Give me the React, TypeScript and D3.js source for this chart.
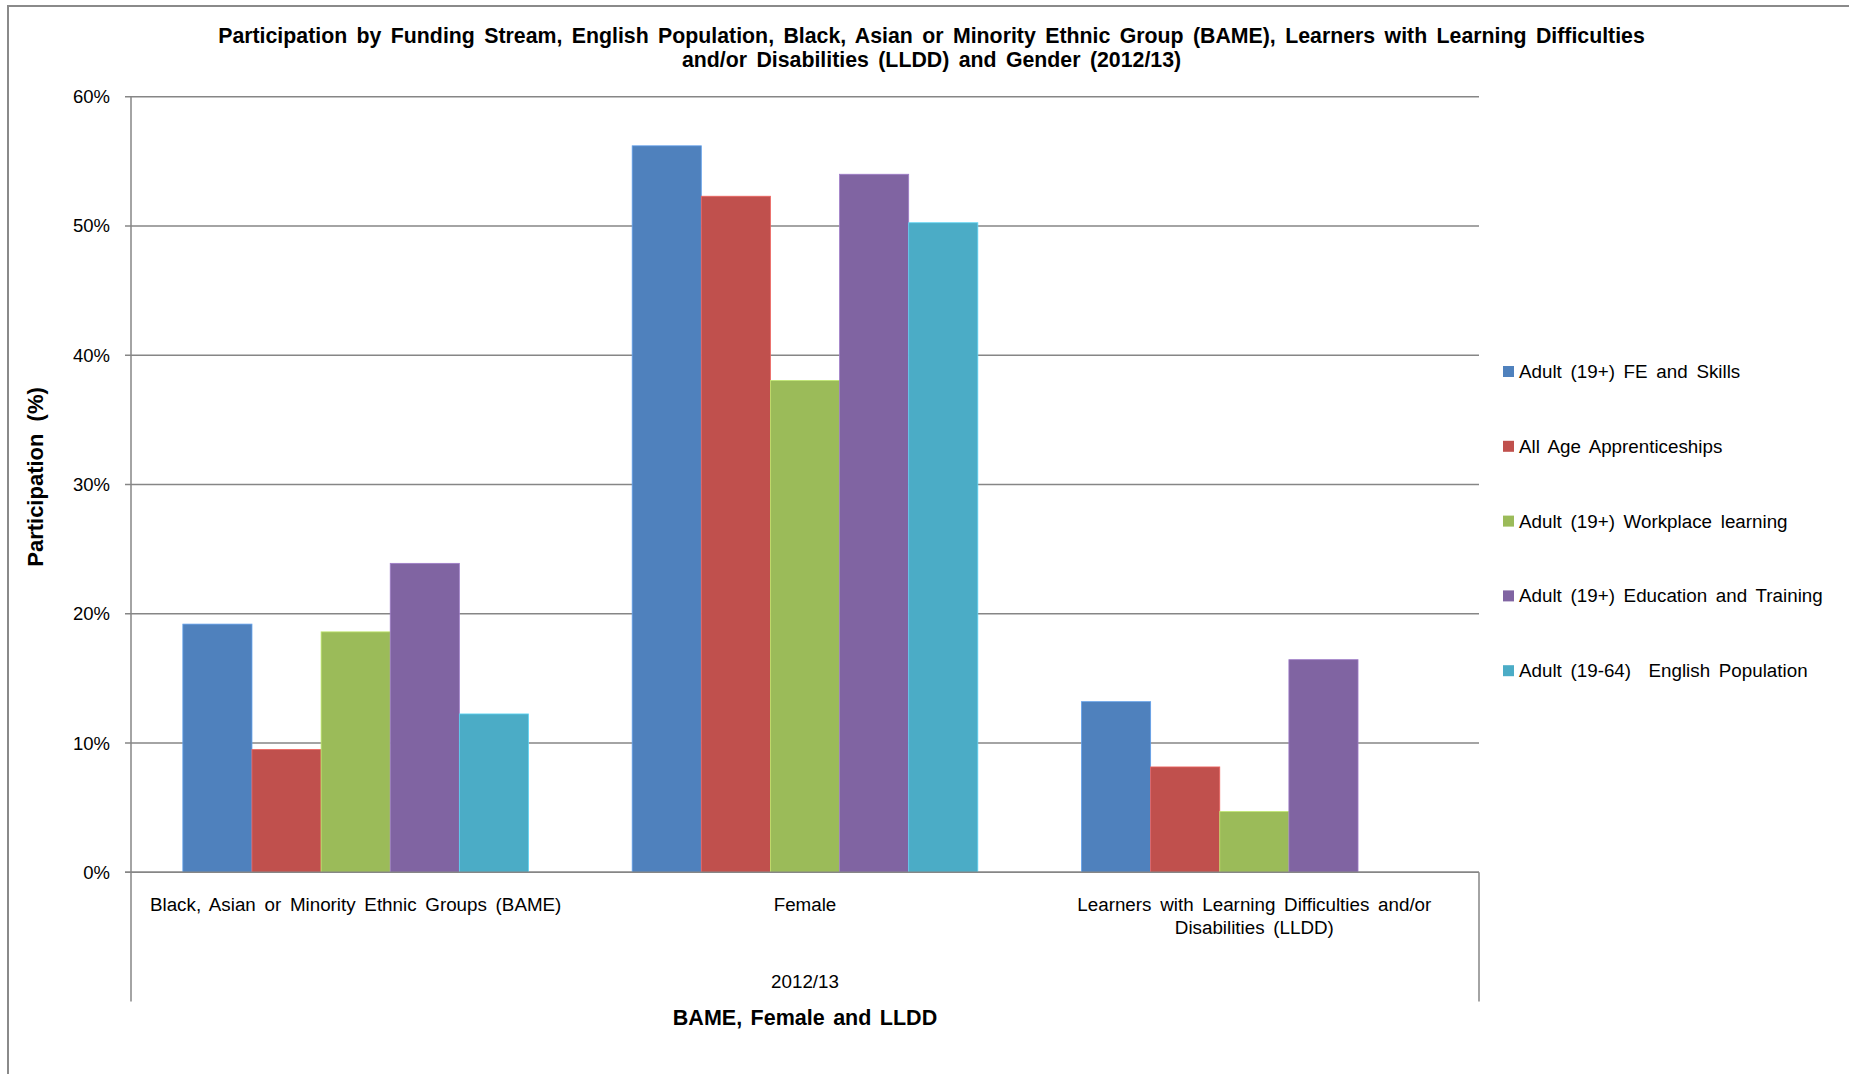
import React from "react";
import * as d3 from "d3";

const categories = [
  ["Black, Asian or Minority Ethnic Groups (BAME)"],
  ["Female"],
  ["Learners with Learning Difficulties and/or", "Disabilities (LLDD)"],
];
const categoryKeys = ["BAME", "Female", "LLDD"];

const seriesNames = [
  "Adult (19+) FE and Skills",
  "All Age Apprenticeships",
  "Adult (19+) Workplace learning",
  "Adult (19+) Education and Training",
  "Adult (19-64)  English Population",
];
const seriesColors = ["#4F81BD", "#C0504D", "#9BBB59", "#8064A2", "#4BACC6"];

// values in % per series, in category order (BAME, Female, LLDD)
const feSkills = [19.2, 56.2, 13.2];
const apprenticeships = [9.5, 52.3, 8.15];
const workplace = [18.6, 38.05, 4.7];
const educationTraining = [23.9, 54.0, 16.45];
const englishPopulation: (number | null)[] = [12.25, 50.25, null];
const seriesValues = [feSkills, apprenticeships, workplace, educationTraining, englishPopulation];

const yTicks = [0, 10, 20, 30, 40, 50, 60];

const titleLines = [
  "Participation by Funding Stream, English Population, Black, Asian or Minority Ethnic Group (BAME), Learners with Learning Difficulties",
  "and/or Disabilities (LLDD) and Gender (2012/13)",
];
const yAxisTitle = "Participation (%)";
const xAxisTitle = "BAME, Female and LLDD";
const xGroupLabel = "2012/13";

const FONT = "'Liberation Sans', Arial, sans-serif";
const GRID = "#868686";

export default function App() {
  const W = 1849;
  const H = 1074;
  const plot = { left: 131, right: 1479, top: 96.7, bottom: 872.3 };

  const x0 = d3.scaleBand<string>().domain(categoryKeys).range([plot.left, plot.right]).paddingInner(0).paddingOuter(0);
  const x1 = d3
    .scaleBand<string>()
    .domain(seriesNames)
    .range([0, x0.bandwidth()])
    .paddingInner(0)
    .paddingOuter(0.75);
  const y = d3.scaleLinear().domain([0, 60]).range([plot.bottom, plot.top]);

  const axisBottomExt = 1001.5;
  const legendX = 1503;
  const legendTop = 371.5;
  const legendStep = 74.8;
  const labelFs = 18.8;
  const labelWs = 3.5;

  return (
    <svg
      width={W}
      height={H}
      style={{ position: "absolute", left: 0, top: 0, background: "#fff" }}
      fontFamily={FONT}
    >
      <rect x={0} y={0} width={W} height={H} fill="#fff" />
      {/* chart area border */}
      <path d={`M8,${H + 5} L8,6 L${W + 5},6`} fill="none" stroke="#8a8a8a" strokeWidth={2} />

      {/* title */}
      {titleLines.map((t, i) => (
        <text
          key={i}
          x={931.5}
          y={35.5 + i * 24.5}
          textAnchor="middle"
          dominantBaseline="central"
          fontSize={21.3}
          fontWeight="bold"
          wordSpacing={3.5}
          fill="#000"
        >
          {t}
        </text>
      ))}

      {/* gridlines */}
      {yTicks.map((t) => (
        <line
          key={t}
          x1={plot.left - 6}
          x2={plot.right}
          y1={y(t)}
          y2={y(t)}
          stroke={GRID}
          strokeWidth={1.5}
        />
      ))}
      {/* y tick labels */}
      {yTicks.map((t) => (
        <text
          key={"l" + t}
          x={110}
          y={y(t)}
          textAnchor="end"
          dominantBaseline="central"
          fontSize={18.5}
          fill="#000"
        >
          {t + "%"}
        </text>
      ))}

      {/* bars */}
      {seriesValues.map((vals, si) =>
        vals.map((v, ci) =>
          v == null ? null : (
            <rect
              key={si + "-" + ci}
              x={(x0(categoryKeys[ci]) as number) + (x1(seriesNames[si]) as number)}
              y={y(v)}
              width={x1.bandwidth()}
              height={y(0) - y(v)}
              fill={seriesColors[si]}
              stroke={d3.color(seriesColors[si])!.brighter(0.6).formatHex()}
              strokeWidth={0.8}
            />
          )
        )
      )}

      {/* axes */}
      <line x1={plot.left} x2={plot.left} y1={plot.top} y2={axisBottomExt} stroke={GRID} strokeWidth={1.5} />
      <line x1={plot.right} x2={plot.right} y1={plot.bottom} y2={axisBottomExt} stroke={GRID} strokeWidth={1.5} />
      <line x1={plot.left - 6} x2={plot.right} y1={plot.bottom} y2={plot.bottom} stroke={GRID} strokeWidth={1.5} />

      {/* category labels */}
      {categories.map((lines, ci) =>
        lines.map((ln, li) => (
          <text
            key={ci + "-" + li}
            x={(x0(categoryKeys[ci]) as number) + x0.bandwidth() / 2}
            y={904 + li * 23.5}
            textAnchor="middle"
            dominantBaseline="central"
            fontSize={labelFs}
            wordSpacing={labelWs}
            fill="#000"
          >
            {ln}
          </text>
        ))
      )}
      <text
        x={(plot.left + plot.right) / 2}
        y={981}
        textAnchor="middle"
        dominantBaseline="central"
        fontSize={labelFs}
        fill="#000"
      >
        {xGroupLabel}
      </text>

      {/* axis titles */}
      <text
        x={(plot.left + plot.right) / 2}
        y={1018}
        textAnchor="middle"
        dominantBaseline="central"
        fontSize={21.5}
        fontWeight="bold"
        wordSpacing={2.5}
        fill="#000"
      >
        {xAxisTitle}
      </text>
      <text
        transform={`translate(35.5,477) rotate(-90)`}
        textAnchor="middle"
        dominantBaseline="central"
        fontSize={22}
        fontWeight="bold"
        wordSpacing={6}
        fill="#000"
      >
        {yAxisTitle}
      </text>

      {/* legend */}
      {seriesNames.map((s, i) => (
        <g key={s} transform={`translate(${legendX},${legendTop + i * legendStep})`}>
          <rect x={0} y={-5.5} width={11} height={11} fill={seriesColors[i]} />
          <text
            x={16}
            y={0}
            dominantBaseline="central"
            fontSize={labelFs}
            wordSpacing={labelWs}
            fill="#000"
            style={{ whiteSpace: "pre" }}
          >
            {s}
          </text>
        </g>
      ))}
    </svg>
  );
}
